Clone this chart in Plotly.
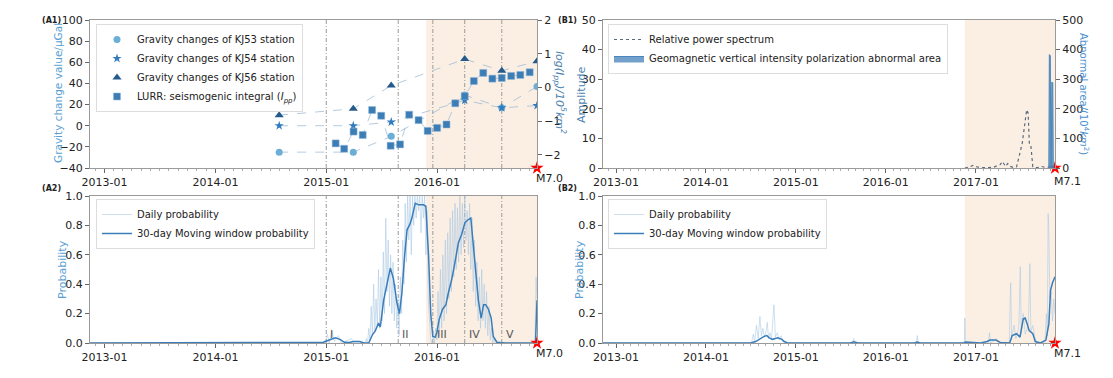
import pandas as pd
import plotly.graph_objects as go

FONT = "DejaVu Sans"
W, H = 1113, 378

# ---------------- Panel A (M7.0) ----------------
a_start, a_eq = "2012-11-14", "2016-11-25"
a_shade_start = "2015-11-26"
a_events = ["2015-01-01", "2015-08-26", "2015-12-18", "2016-04-01", "2016-08-01"]
a_event_labels = ["I", "II", "III", "IV", "V"]

grav_dates = ["2014-07-30", "2015-03-31", "2015-08-03", "2016-04-01", "2016-08-01", "2016-11-25"]
kj53 = [-25, -25, -10, 29, 17, 37]
kj54 = [0, 0, 3.5, 24, 17, 19]
kj56 = [10, 16, 38, 63, 52, 61]

lurr_dates = ["2015-02-01", "2015-03-01", "2015-04-01", "2015-05-01", "2015-06-01", "2015-07-01",
              "2015-08-01", "2015-09-01", "2015-10-01", "2015-11-01", "2015-12-01", "2016-01-01",
              "2016-02-01", "2016-03-01", "2016-04-01", "2016-05-01", "2016-06-01", "2016-07-01",
              "2016-08-01", "2016-09-01", "2016-10-01", "2016-11-01"]
lurr_vals = [-1.66, -1.82, -1.31, -1.41, -0.67, -0.84, -1.73, -1.69, -0.81, -0.97, -1.29, -1.20,
             -1.10, -0.47, -0.26, 0.19, 0.43, 0.26, 0.28, 0.34, 0.37, 0.45]

# daily probability (A2): sparse early part, 4-day sampled active part, tail
a_daily_pre_dates = ["2012-11-14", "2014-12-28", "2015-01-05", "2015-01-10", "2015-01-20", "2015-01-28",
                     "2015-02-10", "2015-02-20", "2015-03-25", "2015-04-05"]
a_daily_pre_vals = [0, 0, 0.06, 0.0, 0.08, 0.01, 0.05, 0.0, 0.03, 0.0]
a_daily_core_start = "2015-05-09"
a_daily_core_vals = [0.00, 0.03, 0.00, 0.10, 0.02, 0.25, 0.05, 0.40, 0.08, 0.30, 0.12, 0.50, 0.10, 0.45,
                     0.15, 0.62, 0.20, 0.85, 0.35, 0.70, 0.25, 0.60, 0.20, 0.55, 0.15, 0.40, 0.10, 0.30,
                     0.05, 0.45, 0.20, 0.70, 0.40, 0.95, 0.55, 1.00, 0.70, 1.00, 0.60, 1.00, 0.80, 1.00,
                     0.85, 1.00, 0.90, 1.00, 0.75, 1.00, 0.85, 1.00, 0.60, 0.90, 0.30, 0.10, 0.02, 0.00,
                     0.05, 0.00, 0.10, 0.02, 0.35, 0.05, 0.50, 0.10, 0.60, 0.15, 0.70, 0.20, 0.75, 0.30,
                     0.85, 0.35, 0.90, 0.45, 0.95, 0.50, 0.92, 0.55, 1.00, 0.60, 0.95, 0.65, 1.00, 0.70,
                     0.90, 0.60, 0.95, 0.50, 0.85, 0.35, 0.70, 0.25, 0.55, 0.15, 0.45, 0.10, 0.50, 0.15,
                     0.40, 0.10, 0.35, 0.05, 0.25, 0.02, 0.10, 0.00, 0.03, 0.00, 0.00]
a_daily_post_dates = ["2016-11-18", "2016-11-22", "2016-11-25"]
a_daily_post_vals = [0.0, 0.45, 0.30]

# 30-day moving window (A2): days after 2015-01-01
a_ma_base = "2015-01-01"
a_ma_days = [-778, -20, -10, 10, 30, 45, 60, 75, 90, 110, 125, 140, 145, 152, 161, 172, 178, 189, 200, 211,
             221, 233, 241, 249, 258, 266, 276, 282, 293, 304, 320, 328, 337, 344, 351, 359, 364, 372, 383, 394,
             402, 413, 424, 435, 446, 457, 468, 476, 481, 490, 501, 510, 518, 525, 534, 543, 550, 562, 589, 689,
             694]
a_ma_vals = [0, 0, 0.005, 0.02, 0.035, 0.025, 0.005, 0.003, 0.01, 0.01, 0.0, 0.0, 0.02, 0.056, 0.08, 0.135,
             0.11, 0.29, 0.40, 0.51, 0.44, 0.27, 0.20, 0.34, 0.59, 0.77, 0.81, 0.85, 0.95, 0.94, 0.94, 0.93,
             0.59, 0.20, 0.045, 0.04, 0.07, 0.16, 0.23, 0.26, 0.34, 0.43, 0.55, 0.68, 0.74, 0.82, 0.84, 0.85,
             0.74, 0.54, 0.29, 0.17, 0.26, 0.26, 0.23, 0.17, 0.045, 0.005, 0.0, 0.0, 0.29]

# ---------------- Panel B (M7.1) ----------------
b_start, b_eq = "2012-11-09", "2017-11-18"
b_shade_start = "2016-11-17"

spec_dates = ["2016-11-17", "2016-12-05", "2016-12-20", "2017-01-05", "2017-01-31", "2017-03-12", "2017-04-01",
              "2017-04-10", "2017-04-19", "2017-05-01", "2017-05-10", "2017-05-18", "2017-06-01", "2017-06-15",
              "2017-06-27", "2017-07-08", "2017-07-18", "2017-07-26", "2017-08-01", "2017-08-06", "2017-08-12",
              "2017-08-20", "2017-09-05", "2017-09-25", "2017-10-10", "2017-10-25", "2017-11-18"]
spec_vals = [0, 0.3, 0.9, 0.4, 0.1, 0.2, 0.9, 1.2, 2.2, 0.5, 1.5, 0.6, 0.2, 0.4, 4.5, 8.4, 14.6, 19.7, 18.5,
             8.0, 7.6, 0.4, 0.1, 0.5, 0.2, 0.3, 0]

area_dates = ["2017-10-22", "2017-10-24", "2017-10-26", "2017-10-30", "2017-11-01", "2017-11-03",
              "2017-11-05", "2017-11-09", "2017-11-11"]
area_vals = [0, 0, 383, 380, 0, 0, 290, 288, 0]

b_ma_dates = ["2012-11-09", "2014-07-01", "2014-07-22", "2014-08-10", "2014-08-25", "2014-09-05", "2014-09-15",
              "2014-09-28", "2014-10-10", "2014-10-20", "2014-11-05", "2014-11-15", "2014-11-28", "2015-08-10",
              "2015-08-25", "2015-09-10", "2016-04-25", "2016-05-08", "2016-05-20", "2016-11-12", "2016-11-20",
              "2016-12-20", "2017-01-20", "2017-02-15", "2017-02-27", "2017-03-23", "2017-04-10", "2017-05-18",
              "2017-05-28", "2017-06-15", "2017-06-29", "2017-07-12", "2017-07-20", "2017-07-28", "2017-08-05",
              "2017-08-20", "2017-08-30", "2017-09-20", "2017-10-12", "2017-10-24", "2017-10-31", "2017-11-08",
              "2017-11-18"]
b_ma_vals = [0, 0, 0.01, 0.03, 0.045, 0.05, 0.035, 0.025, 0.033, 0.036, 0.025, 0.01, 0, 0, 0.008, 0, 0, 0.006,
             0, 0, 0.006, 0.004, 0, 0.01, 0.02, 0.02, 0.004, 0, 0.05, 0.063, 0.04, 0.165, 0.17, 0.13, 0.085,
             0.063, 0.01, 0, 0.02, 0.13, 0.36, 0.41, 0.45]

b_daily_dates = ["2012-11-09", "2014-07-05", "2014-07-12", "2014-07-18", "2014-07-25", "2014-08-01", "2014-08-08",
                 "2014-08-14", "2014-08-20", "2014-08-27", "2014-09-03", "2014-09-07", "2014-09-12", "2014-09-18",
                 "2014-09-24", "2014-10-04", "2014-10-10", "2014-10-18", "2014-10-25", "2014-11-02", "2014-11-10",
                 "2014-11-20", "2015-08-20", "2015-08-24", "2015-08-28", "2016-05-04", "2016-05-08", "2016-05-12",
                 "2016-11-15", "2016-11-17", "2016-11-19", "2017-02-20", "2017-02-25", "2017-03-02", "2017-03-25",
                 "2017-04-05", "2017-05-16", "2017-05-22", "2017-05-26", "2017-06-05", "2017-06-12", "2017-06-24",
                 "2017-06-30", "2017-07-04", "2017-07-12", "2017-07-20", "2017-08-02", "2017-08-08", "2017-08-12",
                 "2017-08-20", "2017-08-28", "2017-09-05", "2017-10-08", "2017-10-14", "2017-10-18", "2017-10-21",
                 "2017-10-24", "2017-10-28", "2017-11-02", "2017-11-08", "2017-11-13", "2017-11-18"]
b_daily_vals = [0, 0, 0.06, 0.01, 0.12, 0.03, 0.18, 0.05, 0.10, 0.04, 0.09, 0.14, 0.03, 0.07, 0.02, 0.26, 0.04,
                0.07, 0.02, 0.05, 0.01, 0, 0, 0.03, 0, 0, 0.05, 0, 0, 0.17, 0, 0, 0.07, 0, 0.03, 0, 0, 0.41,
                0.05, 0.12, 0.03, 0.10, 0.52, 0.08, 0.2, 0.06, 0.12, 0.54, 0.08, 0.12, 0.04, 0, 0, 0.2, 0.05,
                0.88, 0.77, 0.3, 0.35, 0.15, 0.3, 0.2]

year_ticks_a = ["2013-01-01", "2014-01-01", "2015-01-01", "2016-01-01"]
year_ticks_b = ["2013-01-01", "2014-01-01", "2015-01-01", "2016-01-01", "2017-01-01"]

# ---------------- build ----------------
a_daily_dates = (list(pd.to_datetime(a_daily_pre_dates))
                 + list(pd.date_range(a_daily_core_start, periods=len(a_daily_core_vals), freq="4D"))
                 + list(pd.to_datetime(a_daily_post_dates)))
a_daily_vals = a_daily_pre_vals + a_daily_core_vals + a_daily_post_vals
a_ma_dates = [pd.Timestamp(a_ma_base) + pd.Timedelta(days=d) for d in a_ma_days]

C_LIGHT = "#6baed6"
C_MID = "#2f7bbf"
C_DARK = "#245b8c"
C_SQ = "#3c7db6"
C_CONN = "rgba(150,180,210,0.7)"
C_DAILY = "rgba(165,198,228,0.55)"
C_MA = "#3a7db8"

fig = go.Figure()


def px_x(p):
    return p / W


def px_y(p):
    return 1 - p / H


XA = [px_x(90), px_x(537)]
XB = [px_x(603), px_x(1055)]
YT = [px_y(168), px_y(20)]
YB = [px_y(343), px_y(196)]

# A1 connecting lines
for vals in [kj53, kj54, kj56]:
    fig.add_trace(go.Scatter(x=grav_dates, y=vals, mode="lines", xaxis="x", yaxis="y",
                             line=dict(color=C_CONN, width=1, dash="dash"), showlegend=False, hoverinfo="skip"))
fig.add_trace(go.Scatter(x=lurr_dates, y=lurr_vals, mode="lines", xaxis="x", yaxis="y2",
                         line=dict(color=C_CONN, width=1, dash="dash"), showlegend=False, hoverinfo="skip"))
# A1 markers
fig.add_trace(go.Scatter(x=grav_dates, y=kj53, mode="markers", xaxis="x", yaxis="y",
                         marker=dict(symbol="circle", size=7, color=C_LIGHT),
                         name="Gravity changes of KJ53 station", legend="legend"))
fig.add_trace(go.Scatter(x=grav_dates, y=kj54, mode="markers", xaxis="x", yaxis="y",
                         marker=dict(symbol="star", size=7, color=C_MID),
                         name="Gravity changes of KJ54 station", legend="legend"))
fig.add_trace(go.Scatter(x=grav_dates, y=kj56, mode="markers", xaxis="x", yaxis="y",
                         marker=dict(symbol="triangle-up", size=8, color=C_DARK),
                         name="Gravity changes of KJ56 station", legend="legend"))
fig.add_trace(go.Scatter(x=lurr_dates, y=lurr_vals, mode="markers", xaxis="x", yaxis="y2",
                         marker=dict(symbol="square", size=7, color=C_SQ, line=dict(color="#8fb6d8", width=0.5)),
                         name="LURR: seismogenic integral (<i>I<sub>pp</sub></i>)", legend="legend"))
fig.add_trace(go.Scatter(x=[a_eq], y=[-40], mode="markers", xaxis="x", yaxis="y", cliponaxis=False,
                         marker=dict(symbol="star", size=10, color="#ff0000"), showlegend=False))

# A2
fig.add_trace(go.Scatter(x=a_daily_dates, y=a_daily_vals, mode="lines", xaxis="x2", yaxis="y3",
                         line=dict(color=C_DAILY, width=1), name="Daily probability", legend="legend2"))
fig.add_trace(go.Scatter(x=a_ma_dates, y=a_ma_vals, mode="lines", xaxis="x2", yaxis="y3",
                         line=dict(color=C_MA, width=1.5), name="30-day Moving window probability",
                         legend="legend2"))
fig.add_trace(go.Scatter(x=[a_eq], y=[0], mode="markers", xaxis="x2", yaxis="y3", cliponaxis=False,
                         marker=dict(symbol="star", size=10, color="#ff0000"), showlegend=False))

# B1
fig.add_trace(go.Scatter(x=spec_dates, y=spec_vals, mode="lines", xaxis="x3", yaxis="y4",
                         line=dict(color="#5a6b7c", width=1.2, dash="dot"), name="Relative power spectrum",
                         legend="legend3"))
fig.add_trace(go.Scatter(x=area_dates, y=area_vals, mode="lines", xaxis="x3", yaxis="y5", fill="tozeroy",
                         fillcolor="rgba(70,130,185,0.75)", line=dict(color="#4a86bb", width=1),
                         name="Geomagnetic vertical intensity polarization abnormal area", legend="legend3"))
fig.add_trace(go.Scatter(x=[b_eq], y=[0], mode="markers", xaxis="x3", yaxis="y4", cliponaxis=False,
                         marker=dict(symbol="star", size=10, color="#ff0000"), showlegend=False))

# B2
fig.add_trace(go.Scatter(x=b_daily_dates, y=b_daily_vals, mode="lines", xaxis="x4", yaxis="y6",
                         line=dict(color=C_DAILY, width=1), name="Daily probability", legend="legend4"))
fig.add_trace(go.Scatter(x=b_ma_dates, y=b_ma_vals, mode="lines", xaxis="x4", yaxis="y6",
                         line=dict(color=C_MA, width=1.5), name="30-day Moving window probability",
                         legend="legend4"))
fig.add_trace(go.Scatter(x=[b_eq], y=[0], mode="markers", xaxis="x4", yaxis="y6", cliponaxis=False,
                         marker=dict(symbol="star", size=10, color="#ff0000"), showlegend=False))

TICKFONT = dict(family=FONT, size=11, color="#222")
LINEC = "#9a9a9a"


def xax(domain, anchor, rng, ticks):
    return dict(domain=domain, anchor=anchor, range=rng, type="date", tickvals=ticks, automargin=False,
                ticktext=[t[:7] for t in ticks], showline=True, mirror=True, linecolor=LINEC, linewidth=1,
                ticks="outside", ticklen=4, tickcolor="#666", showgrid=False, zeroline=False, tickfont=TICKFONT,
                minor=dict(dtick="M1", tick0="2013-01-01", ticks="outside", ticklen=2, tickcolor="#aaa"))


def yax(domain, anchor, rng, dtick, fmt=None, side="left", overlaying=None, tickvals=None):
    d = dict(domain=domain, anchor=anchor, range=rng, showline=True, linecolor=LINEC, linewidth=1,
             ticks="outside", ticklen=4, tickcolor="#666", showgrid=False, zeroline=False, tickfont=TICKFONT,
             side=side, automargin=False)
    if tickvals is not None:
        d["tickvals"] = tickvals
    else:
        d["dtick"] = dtick
        d["tick0"] = 0
    if fmt:
        d["tickformat"] = fmt
    if overlaying:
        d["overlaying"] = overlaying
    else:
        d["mirror"] = True
    return d


leg_common = dict(font=dict(family=FONT, size=10, color="#222"), bgcolor="rgba(255,255,255,0.85)",
                  bordercolor="#dddddd", borderwidth=1, xanchor="left", yanchor="top", tracegroupgap=0,
                  itemwidth=30)

fig.update_layout(
    width=W, height=H, margin=dict(l=0, r=0, t=0, b=0, autoexpand=False),
    paper_bgcolor="white", plot_bgcolor="white", font=dict(family=FONT, size=11, color="#222"),
    xaxis=xax(XA, "y", [a_start, a_eq], year_ticks_a),
    yaxis=yax(YT, "x", [-40, 100], 20),
    yaxis2=yax(YT, "x", [-2.39, 2], None, side="right", overlaying="y", tickvals=[-2, -1, 0, 1, 2]),
    xaxis2=xax(XA, "y3", [a_start, a_eq], year_ticks_a),
    yaxis3=yax(YB, "x2", [0, 1], 0.2, fmt=".1f"),
    xaxis3=xax(XB, "y4", [b_start, b_eq], year_ticks_b),
    yaxis4=yax(YT, "x3", [0, 50], 10),
    yaxis5=yax(YT, "x3", [0, 500], 100, side="right", overlaying="y4"),
    xaxis4=xax(XB, "y6", [b_start, b_eq], year_ticks_b),
    yaxis6=yax(YB, "x4", [0, 1], 0.2, fmt=".1f"),
    legend=dict(x=px_x(96), y=px_y(24), **leg_common),
    legend2=dict(x=px_x(96), y=px_y(199), **leg_common),
    legend3=dict(x=px_x(608), y=px_y(24), **leg_common),
    legend4=dict(x=px_x(608), y=px_y(199), **leg_common),
    showlegend=True,
)

shapes = []
for xr, yr, s0, s1 in [("x", "y domain", a_shade_start, a_eq), ("x2", "y3 domain", a_shade_start, a_eq),
                       ("x3", "y4 domain", b_shade_start, b_eq), ("x4", "y6 domain", b_shade_start, b_eq)]:
    shapes.append(dict(type="rect", xref=xr, yref=yr, x0=s0, x1=s1, y0=0, y1=1, fillcolor="#fbefe4",
                       line=dict(width=0), layer="below"))
for xr, yr in [("x", "y domain"), ("x2", "y3 domain")]:
    for d in a_events:
        shapes.append(dict(type="line", xref=xr, yref=yr, x0=d, x1=d, y0=0, y1=1,
                           line=dict(color="#9a9a9a", width=1, dash="4px,2px,1px,2px"), layer="below"))
fig.update_layout(shapes=shapes)

ann = []
for d, lab in zip(a_events, a_event_labels):
    ann.append(dict(x=d, y=0.06, xref="x2", yref="y3", text=lab, showarrow=False, xanchor="left", xshift=2,
                    font=dict(family=FONT, size=11, color="#555")))
for xr, yr, d, lab, ys in [("x", "y domain", a_eq, "M7.0", -2), ("x2", "y3 domain", a_eq, "M7.0", -2),
                           ("x3", "y4 domain", b_eq, "M7.1", -5), ("x4", "y6 domain", b_eq, "M7.1", -2)]:
    ann.append(dict(x=d, y=0, xref=xr, yref=yr, text=lab, showarrow=False, xanchor="left", yanchor="top",
                    xshift=-3, yshift=ys, font=dict(family=FONT, size=11, color="#222")))
for x, y, lab in [(40, 14, "(A1)"), (40, 188, "(A2)"), (567, 14, "(B1)"), (567, 188, "(B2)")]:
    ann.append(dict(x=px_x(x), y=px_y(y), xref="paper", yref="paper", text="<b>" + lab + "</b>",
                    showarrow=False, font=dict(family=FONT, size=8, color="#222")))
titles = [
    (58, 93, "Gravity change value/μGal", -90, "#5a9fd4", 10.5),
    (62, 270, "Probability", -90, "#5a9fd4", 11),
    (560, 92, "<i>log(I<sub>pp</sub>)/10<sup>5</sup>km<sup>2</sup></i>", 90, "#4a7fb0", 11),
    (581, 95, "Amplitude", -90, "#4a7fb0", 11),
    (579, 270, "Probability", -90, "#5a9fd4", 11),
    (1084, 94, "Abnormal area/(10<sup>4</sup><i>km</i><sup>2</sup>)", 90, "#4a90d0", 10),
]
for x, y, t, ang, col, fs in titles:
    ann.append(dict(x=px_x(x), y=px_y(y), xref="paper", yref="paper", text=t, textangle=ang, showarrow=False,
                    xanchor="center", yanchor="middle", font=dict(family=FONT, size=fs, color=col)))
fig.update_layout(annotations=ann)

fig.write_html("out.html", config={"displayModeBar": False},
               post_script="document.body.style.margin='0';document.body.style.overflow='hidden';")
